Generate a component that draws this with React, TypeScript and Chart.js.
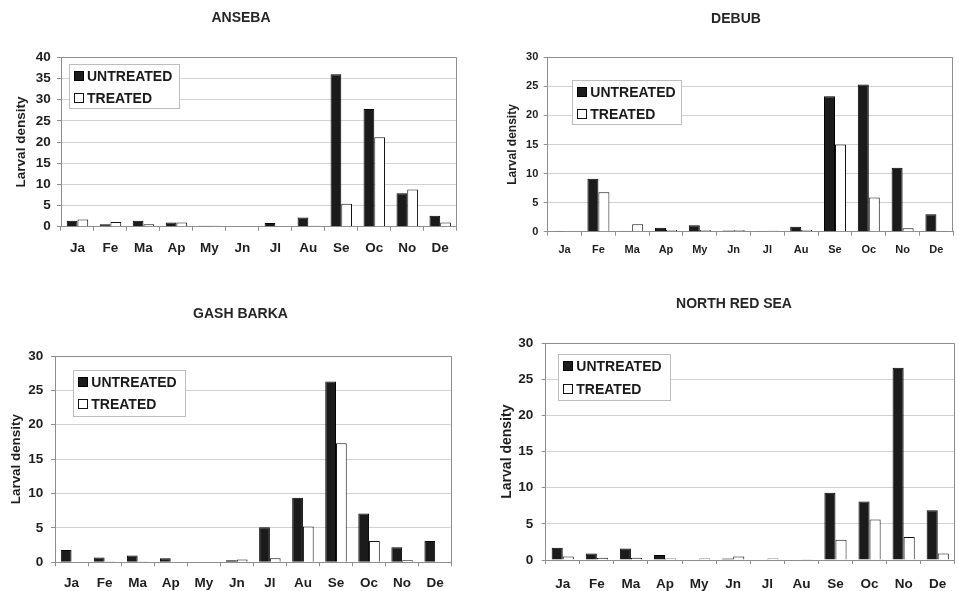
import React, { useEffect, useRef } from 'react';
import { Chart, registerables } from 'chart.js';

Chart.register(...registerables);

// ---------- data ----------
const months = ['Ja', 'Fe', 'Ma', 'Ap', 'My', 'Jn', 'Jl', 'Au', 'Se', 'Oc', 'No', 'De'];
const seriesNames = ['UNTREATED', 'TREATED'];
const yAxisTitle = 'Larval density';

const ansebaUntreated = [1.4, 0.6, 1.4, 1.0, 0.2, 0, 0.9, 2.2, 36.0, 27.8, 7.9, 2.6];
const ansebaTreated = [1.7, 1.1, 0.6, 1.0, 0.2, 0, 0.1, 0.2, 5.4, 21.1, 8.8, 1.0];

const debubUntreated = [0.1, 9.1, 0.05, 0.7, 1.1, 0.2, 0.1, 0.85, 23.3, 25.3, 11.0, 3.0];
const debubTreated = [0, 6.8, 1.3, 0.3, 0.3, 0.3, 0.15, 0.3, 15.0, 5.9, 0.6, 0.1];

const gashUntreated = [1.8, 0.7, 1.0, 0.6, 0, 0.3, 5.1, 9.4, 26.3, 7.1, 2.2, 3.1];
const gashTreated = [0, 0.1, 0.1, 0, 0, 0.4, 0.6, 5.2, 17.3, 3.1, 0.3, 0];

const nrsUntreated = [1.7, 0.9, 1.6, 0.7, 0, 0.2, 0, 0, 9.3, 8.1, 26.6, 6.9];
const nrsTreated = [0.5, 0.3, 0.3, 0.2, 0.2, 0.5, 0.2, 0.1, 2.8, 5.6, 3.2, 0.9];

const yMaxAnseba = 40;
const yMaxOther = 30;
const yStep = 5;

// ---------- layout / style ----------
const FONT = '"Liberation Sans", Arial, Helvetica, sans-serif';
const TICK_LEN = 4;

type PanelCfg = {
  title: string;
  untreated: number[];
  treated: number[];
  ymax: number;
  canvas: { x: number; y: number; w: number; h: number };
  area: { l: number; t: number; r: number; b: number };
  tickFont: number;
  axisTitleFont: number;
  axisTitleCx: number;
  yTickGap: number;
  xLabelOff: number;
  titlePos: { cx: number; base: number };
  legend: { x: number; y: number; w: number; h: number };
};

const panels: PanelCfg[] = [
  {
    title: 'ANSEBA', untreated: ansebaUntreated, treated: ansebaTreated, ymax: yMaxAnseba,
    canvas: { x: 0, y: 0, w: 479, h: 295 },
    area: { l: 61, t: 57.3, r: 456.7, b: 226.7 },
    tickFont: 13.5, axisTitleFont: 13.5, axisTitleCx: 21.7, yTickGap: 10.3, xLabelOff: 21.6,
    titlePos: { cx: 241, base: 21.7 },
    legend: { x: 69, y: 64.3, w: 110.3, h: 44 },
  },
  {
    title: 'DEBUB', untreated: debubUntreated, treated: debubTreated, ymax: yMaxOther,
    canvas: { x: 479, y: 0, w: 480, h: 295 },
    area: { l: 547.7, t: 57.3, r: 953.3, b: 231.7 },
    tickFont: 11, axisTitleFont: 12, axisTitleCx: 513, yTickGap: 9.4, xLabelOff: 18.6,
    titlePos: { cx: 736, base: 23.3 },
    legend: { x: 572.3, y: 80, w: 109.4, h: 44.3 },
  },
  {
    title: 'GASH BARKA', untreated: gashUntreated, treated: gashTreated, ymax: yMaxOther,
    canvas: { x: 0, y: 295, w: 479, h: 296 },
    area: { l: 55, t: 356, r: 451.7, b: 562.3 },
    tickFont: 13.5, axisTitleFont: 13.4, axisTitleCx: 16, yTickGap: 11.7, xLabelOff: 21,
    titlePos: { cx: 240.5, base: 318.3 },
    legend: { x: 73.3, y: 370, w: 111.7, h: 45.7 },
  },
  {
    title: 'NORTH RED SEA', untreated: nrsUntreated, treated: nrsTreated, ymax: yMaxOther,
    canvas: { x: 479, y: 295, w: 480, h: 296 },
    area: { l: 545.7, t: 343.3, r: 958.3, b: 560 },
    tickFont: 13.5, axisTitleFont: 14, axisTitleCx: 507, yTickGap: 12.4, xLabelOff: 24.7,
    titlePos: { cx: 734, base: 307.7 },
    legend: { x: 558.3, y: 354.3, w: 111.7, h: 45.7 },
  },
];

const decorPlugin = {
  id: 'panelDecor',
  beforeDatasetsDraw(chart: any, _args: any, o: any) {
    const { ctx, chartArea: a } = chart;
    ctx.save();
    ctx.strokeStyle = o.frameColor;
    ctx.lineWidth = 1;
    const top = Math.round(a.top) + 0.5;
    const right = Math.round(a.right) - 0.5;
    ctx.beginPath();
    ctx.moveTo(Math.round(a.left), top);
    ctx.lineTo(right, top);
    ctx.lineTo(right, Math.round(a.bottom));
    ctx.stroke();
    ctx.restore();
  },
  afterDraw(chart: any, _args: any, o: any) {
    const ctx = chart.ctx;
    ctx.save();
    // title
    ctx.fillStyle = '#262626';
    ctx.font = `bold ${o.titleSize}px ${FONT}`;
    ctx.textAlign = 'center';
    ctx.textBaseline = 'alphabetic';
    ctx.fillText(o.title, o.titleX, o.titleY);
    // legend box
    const L = o.legend;
    ctx.fillStyle = '#ffffff';
    ctx.fillRect(L.x, L.y, L.w, L.h);
    ctx.strokeStyle = '#bdbdbd';
    ctx.lineWidth = 1;
    ctx.strokeRect(Math.round(L.x) + 0.5, Math.round(L.y) + 0.5, Math.round(L.w), Math.round(L.h));
    const ds = chart.data.datasets;
    ds.forEach((d: any, i: number) => {
      const sx = Math.round(L.x + 4.5);
      const sy = Math.round(L.y + 7 + i * (L.h / 2 - 0.5));
      ctx.fillStyle = d.backgroundColor;
      ctx.fillRect(sx, sy, 10, 10);
      ctx.strokeStyle = d.borderColor;
      ctx.strokeRect(sx + 0.5, sy + 0.5, 9, 9);
      ctx.fillStyle = '#1a1a1a';
      ctx.font = `bold 14px ${FONT}`;
      ctx.textAlign = 'left';
      ctx.fillText(d.label, L.x + 18, sy + 10);
    });
    ctx.restore();
  },
};

function Panel({ cfg }: { cfg: PanelCfg }) {
  const ref = useRef<HTMLCanvasElement | null>(null);
  useEffect(() => {
    if (!ref.current) return;
    const c = cfg.canvas;
    const lRel = cfg.area.l - c.x;
    const tRel = cfg.area.t - c.y;
    const rRel = cfg.area.r - c.x;
    const bRel = cfg.area.b - c.y;
    const xAxisH = c.h - bRel;
    const tickLH = cfg.tickFont * 1.2;
    const axisLH = cfg.axisTitleFont * 1.2;
    const chart = new Chart(ref.current, {
      type: 'bar',
      data: {
        labels: months,
        datasets: [
          {
            label: seriesNames[0],
            data: cfg.untreated,
            backgroundColor: '#1b1b1b',
            borderColor: '#000000',
            borderWidth: 1,
            categoryPercentage: 0.65,
            barPercentage: 1.0,
          },
          {
            label: seriesNames[1],
            data: cfg.treated,
            backgroundColor: '#ffffff',
            borderColor: '#111111',
            borderWidth: 1,
            categoryPercentage: 0.65,
            barPercentage: 1.0,
          },
        ],
      },
      options: {
        responsive: false,
        animation: false,
        events: [],
        layout: {
          padding: {
            left: 0,
            top: tRel,
            right: c.w - rRel,
            bottom: 0,
          },
        },
        plugins: {
          legend: { display: false },
          title: { display: false },
          tooltip: { enabled: false },
          panelDecor: {
            frameColor: '#8e8e8e',
            title: cfg.title,
            titleSize: 14,
            titleX: cfg.titlePos.cx - c.x,
            titleY: cfg.titlePos.base - c.y,
            legend: {
              x: cfg.legend.x - c.x,
              y: cfg.legend.y - c.y,
              w: cfg.legend.w,
              h: cfg.legend.h,
            },
          },
        } as any,
        scales: {
          x: {
            offset: true,
            grid: {
              offset: true,
              drawOnChartArea: false,
              drawTicks: true,
              tickLength: TICK_LEN,
              color: '#8e8e8e',
            },
            border: { display: true, color: '#8e8e8e' },
            ticks: {
              color: '#1e1e1e',
              font: { family: FONT, size: cfg.tickFont, weight: 'bold' },
              padding: cfg.xLabelOff - TICK_LEN - tickLH / 2,
              maxRotation: 0,
              autoSkip: false,
            },
            afterFit: (s: any) => {
              s.height = xAxisH;
            },
          },
          y: {
            min: 0,
            max: cfg.ymax,
            grid: {
              color: '#d2d2d2',
              tickColor: '#8e8e8e',
              tickLength: TICK_LEN,
              drawTicks: true,
            },
            border: { display: true, color: '#8e8e8e' },
            ticks: {
              stepSize: yStep,
              color: '#1e1e1e',
              font: { family: FONT, size: cfg.tickFont, weight: 'bold' },
              padding: cfg.yTickGap - TICK_LEN,
            },
            title: {
              display: true,
              text: yAxisTitle,
              color: '#1e1e1e',
              font: { family: FONT, size: cfg.axisTitleFont, weight: 'bold' },
              padding: { top: cfg.axisTitleCx - c.x - axisLH / 2, bottom: 0 },
            },
            afterFit: (s: any) => {
              s.width = lRel;
            },
          },
        },
      },
      plugins: [decorPlugin as any],
    });
    return () => chart.destroy();
  }, [cfg]);
  const c = cfg.canvas;
  return (
    <canvas
      ref={ref}
      width={c.w}
      height={c.h}
      style={{ position: 'absolute', left: c.x, top: c.y, width: c.w, height: c.h }}
    />
  );
}

export default function App() {
  return (
    <div
      style={{
        position: 'fixed',
        left: 0,
        top: 0,
        width: 959,
        height: 591,
        background: '#ffffff',
        overflow: 'hidden',
      }}
    >
      {panels.map((p) => (
        <Panel key={p.title} cfg={p} />
      ))}
    </div>
  );
}
